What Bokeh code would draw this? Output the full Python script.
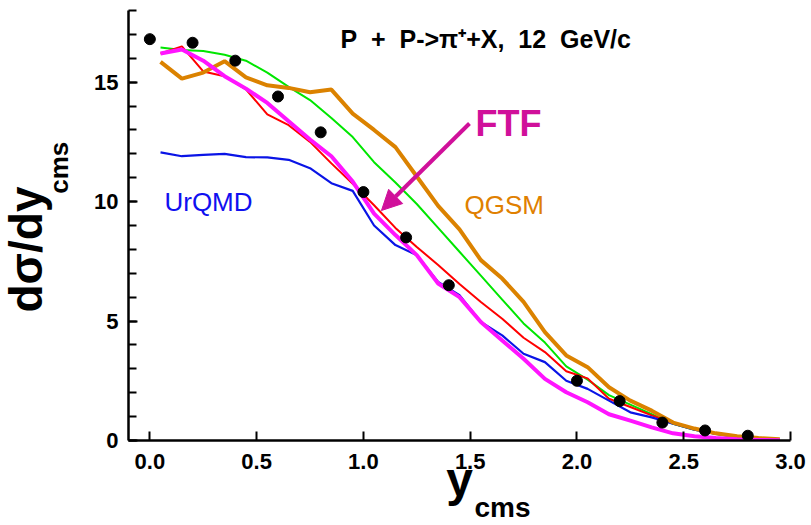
import math
from bokeh.plotting import figure
from bokeh.models import (FixedTicker, NumeralTickFormatter, Label, Arrow,
                          NormalHead, Range1d, Title)
from bokeh.embed import file_html
from bokeh.resources import INLINE

# ---------------- data ----------------
exp_y = [0.0, 0.2, 0.4, 0.6, 0.8, 1.0, 1.2, 1.4, 2.0, 2.2, 2.4, 2.6, 2.8]
exp_val = [16.8, 16.65, 15.9, 14.4, 12.9, 10.4, 8.5, 6.5, 2.5, 1.65, 0.75, 0.42, 0.2]

bins = [0.05, 0.15, 0.25, 0.35, 0.45, 0.55, 0.65, 0.75, 0.85, 0.95,
        1.05, 1.15, 1.25, 1.35, 1.45, 1.55, 1.65, 1.75, 1.85, 1.95,
        2.05, 2.15, 2.25, 2.35, 2.45, 2.55, 2.65, 2.75, 2.85, 2.95]

green = [16.45, 16.35, 16.3, 16.15, 15.9, 15.4, 14.8, 14.25, 13.5, 12.7,
         11.65, 10.8, 9.9, 8.9, 7.9, 6.9, 5.9, 4.9, 4.1, 3.1,
         2.55, 1.9, 1.5, 1.1, 0.7, 0.45, 0.28, 0.15, 0.08, 0.03]
red = [16.2, 16.5, 15.45, 15.25, 14.7, 13.65, 13.2, 12.5, 11.6, 10.75,
       9.85, 8.9, 8.1, 7.35, 6.55, 5.8, 5.1, 4.3, 3.7, 2.9,
       2.6, 1.75, 1.4, 1.05, 0.75, 0.5, 0.3, 0.17, 0.08, 0.03]
urqmd = [12.06, 11.9, 11.96, 12.0, 11.86, 11.85, 11.75, 11.4, 10.77, 10.45,
         9.0, 8.18, 7.76, 6.64, 6.08, 4.96, 4.4, 3.63, 3.28, 2.5,
         2.16, 1.67, 1.18, 0.97, 0.7, 0.45, 0.28, 0.15, 0.07, 0.03]
ftf = [16.2, 16.37, 15.9, 15.25, 14.73, 14.13, 13.36, 12.6, 11.9, 10.84,
       9.5, 8.6, 7.76, 6.57, 6.0, 4.96, 4.19, 3.42, 2.58, 2.02,
       1.6, 1.1, 0.83, 0.55, 0.3, 0.18, 0.1, 0.05, 0.02, 0.01]
qgsm = [15.85, 15.15, 15.4, 15.88, 15.2, 14.87, 14.76, 14.58, 14.69, 13.68,
        13.0, 12.28, 11.05, 9.82, 8.84, 7.55, 6.78, 5.8, 4.54, 3.56,
        3.07, 2.23, 1.67, 1.25, 0.75, 0.5, 0.3, 0.18, 0.1, 0.05]

x_ticks = [0.0, 0.5, 1.0, 1.5, 2.0, 2.5, 3.0]
y_ticks = [0, 5, 10, 15]
y_minor = list(range(0, 19))

FONT = "Liberation Sans"
NB = "\u00a0"

p = figure(width=811, height=525, output_backend="svg", toolbar_location=None,
           x_range=Range1d(-0.1, 3.0), y_range=Range1d(0, 18),
           min_border_left=128, min_border_right=21, min_border_top=10,
           min_border_bottom=85)
p.outline_line_color = None
p.xgrid.visible = False
p.ygrid.visible = False
p.background_fill_color = "white"
p.border_fill_color = "white"

for ax in (p.xaxis[0], p.yaxis[0]):
    ax.axis_line_width = 2.5
    ax.axis_line_color = "black"
    ax.major_tick_line_width = 2
    ax.minor_tick_line_width = 2
    ax.major_tick_in = 9
    ax.major_tick_out = 0
    ax.minor_tick_in = 8
    ax.minor_tick_out = 0
    ax.major_label_text_font = FONT
    ax.major_label_text_font_style = "bold"
    ax.major_label_text_font_size = "22px"
    ax.major_label_text_color = "black"
    ax.axis_label_text_font = FONT
    ax.axis_label_text_font_style = "bold"
    ax.axis_label_text_color = "black"

p.xaxis.ticker = FixedTicker(ticks=x_ticks)
p.xaxis.formatter = NumeralTickFormatter(format="0.0")
p.xaxis.minor_tick_line_color = None
p.xaxis.major_label_standoff = 13
p.xaxis.axis_label = "y"
p.xaxis.axis_label_text_font_size = "48px"
p.xaxis.axis_label_standoff = -19

p.yaxis.ticker = FixedTicker(ticks=y_ticks, minor_ticks=y_minor)
p.yaxis.formatter = NumeralTickFormatter(format="0")
p.yaxis.major_label_standoff = 10
p.yaxis.axis_label = NB * 16 + "cms"
p.yaxis.axis_label_text_font_size = "26px"
p.yaxis.axis_label_standoff = 17

# outer part of the y-axis title
p.add_layout(Title(text="d\u03c3/dy", align="left", offset=128,
                   vertical_align="bottom", standoff=-20,
                   text_font=FONT, text_font_size="46px",
                   text_font_style="bold", text_color="black"), "left")
# subscript of the x-axis title
p.add_layout(Title(text="cms", align="left", offset=346,
                   vertical_align="top", standoff=-33,
                   text_font=FONT, text_font_size="28px",
                   text_font_style="bold", text_color="black"), "below")

p.line(bins, green, line_color="#00e600", line_width=2)
p.line(bins, red, line_color="#ff0000", line_width=2)
p.line(bins, urqmd, line_color="#0a14e6", line_width=2.2)
p.line(bins, qgsm, line_color="#db8200", line_width=4)
p.line(bins, ftf, line_color="#ff14ff", line_width=4)
p.scatter(exp_y, exp_val, size=11, fill_color="black", line_color="black")


def dx(px):
    return (px - 149.4) / 213.55


def dy(py):
    return (440 - py) / (430 / 18)


p.add_layout(Arrow(x_start=dx(469), y_start=dy(123), x_end=dx(381), y_end=dy(210),
                   line_color="#d0109a", line_width=4,
                   end=NormalHead(size=20, fill_color="#d0109a", line_color="#d0109a")))


def lab(text, px, py, size, color="black", style="normal", align="left"):
    p.add_layout(Label(x=dx(px), y=dy(py), text=text, text_font=FONT,
                       text_font_size=size, text_font_style=style,
                       text_color=color, text_align=align,
                       text_baseline="alphabetic"))


lab("FTF", 475, 123, "36px", "#d0109a", "bold")
lab("QGSM", 464, 204, "26px", "#e08000")
lab("UrQMD", 164, 201, "26px", "#1010f0")
lab("P" + NB * 2 + "+" + NB * 2 + "P->\u03c0\u207a+X," + NB * 2 + "12" + NB * 2 + "GeV/c",
    340, 38, "25px", "black", "bold")

open("out.html", "w").write(file_html(p, INLINE))
